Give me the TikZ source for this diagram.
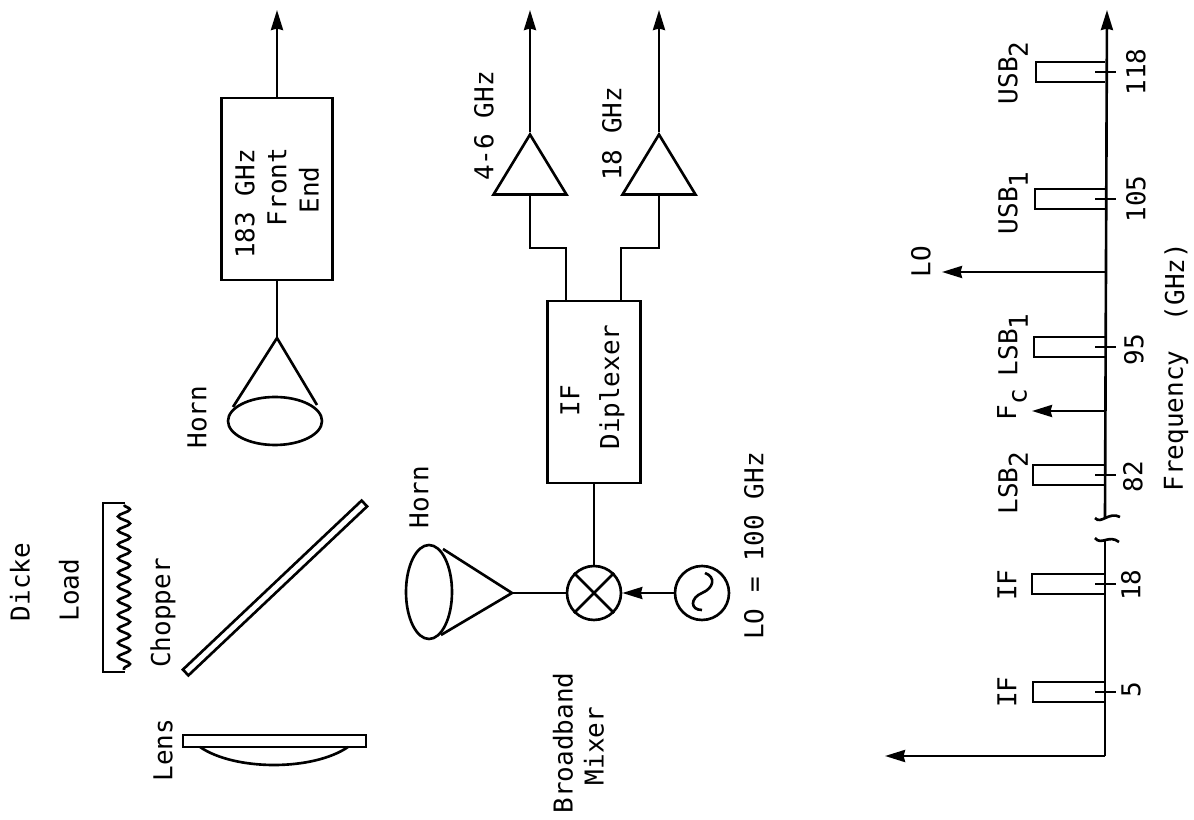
\documentclass[tikz,border=0pt]{standalone}
\usepackage{fontspec}
\setmainfont{DejaVu Sans Mono}
\usetikzlibrary{arrows.meta,positioning,shapes.geometric,decorations.pathmorphing}
\newcommand{\sbs}[1]{\raisebox{-0.4em}{#1}}
\begin{document}
\begin{tikzpicture}[x=0.02cm,y=-0.02cm,node distance=0.6cm and 0.6cm,line width=1.5pt,
  t/.style={rotate=90,font=\fontsize{14.8}{18}\selectfont,inner sep=0pt,align=center},
  b/.style={draw,rectangle,inner sep=0pt},
  c/.style={draw,circle,minimum size=54*0.02cm,inner sep=0pt},
  amp/.style={draw,isosceles triangle,isosceles triangle apex angle=62.6,shape border rotate=90,minimum height=60*0.02cm,inner sep=0pt,anchor=apex},
  a/.style={-{Stealth[length=4mm,width=2.4mm,inset=0.8pt]}}]
  \useasboundingbox (0,0) rectangle (1194,820);
  % top chain
  \node[b,minimum width=111*0.02cm,minimum height=182*0.02cm] (fe) at (277,189) {};
  \node[t] at (245,204) {183 GHz};
  \node[t] at (277,187) {Front};
  \node[t] at (309,190) {End};
  \coordinate (feout) at (277,10);
  \coordinate (h1a) at (277,338);
  \coordinate (h1l) at (233,407);
  \coordinate (h1r) at (317,405);
  \draw[a] (fe.north) -- (feout);
  \draw (fe.south) -- (h1a);
  \draw (h1l) -- (h1a) -- (h1r);
  \draw (275,421) ellipse (47 and 24);
  \node[t] (h1t) at (197,417) {Horn};
  % middle chain
  \node[b,minimum width=93*0.02cm,minimum height=182*0.02cm] (dip) at (594,392) {};
  \node[t] at (570,401) {IF};
  \node[t] at (612,387) {Diplexer};
  \node[c] (mix) at (594,593) {};
  \node[c] (osc) at (702,593) {};
  \draw (mix.north west) -- (mix.south east) (mix.north east) -- (mix.south west);
  \draw (705,573) .. controls (716,577) and (714,588) .. (702,593) .. controls (690,598) and (690,610) .. (702,610);
  \coordinate (h2a) at (512,593);
  \coordinate (h2t) at (443,549);
  \coordinate (h2b) at (441,635);
  \draw (h2t) -- (h2a) -- (h2b);
  \draw (429,592) ellipse (23 and 47);
  \draw (dip.south) -- (mix.north);
  \draw (h2a) -- (mix.west);
  \draw[a] (osc.west) -- (mix.east);
  \node[t] at (419,497) {Horn};
  \node[t] at (563,743) {Broadband};
  \node[t] at (594,746) {Mixer};
  \node[t] at (754,546) {LO = 100 GHz};
  \node[amp] (a1) at (530,132) {};
  \node[amp] (a2) at (659,132) {};
  \coordinate (o1) at (530,10);
  \coordinate (o2) at (659,10);
  \coordinate (d1) at (566,301);
  \coordinate (d2) at (621,301);
  \draw[a] (a1.apex) -- (o1);
  \draw[a] (a2.apex) -- (o2);
  \draw (a1.south) |- (d1 |- 0,248) -- (d1);
  \draw (a2.south) |- (d2 |- 0,248) -- (d2);
  \node[t] at (484,126) {4-6 GHz};
  \node[t] at (612,134) {18 GHz};
  % optics
  \node[t] at (20,582) {Dicke};
  \node[t] at (69,590) {Load};
  \node[t] at (163,613) {Chopper};
  \node[t] at (163,750) {Lens};
  \draw (125,503) -- (103,503) -- (103,672) -- (125,672);
  \draw[decorate,decoration={snake,segment length=8pt,amplitude=3.4pt}] (124,505) -- (124,670);
  \node[draw,rectangle,rotate=43.4,minimum width=246*0.02cm,minimum height=8*0.02cm,inner sep=0pt,line width=1.5pt] (chop) at (275,588) {};
  \node[draw,rectangle,minimum width=183*0.02cm,minimum height=12*0.02cm,inner sep=0pt] (plate) at (274.5,741) {};
  \draw (200,747) .. controls (235,771) and (313,771) .. (348,747);
  % spectrum
  \coordinate (org) at (1105,756);
  \coordinate (vtop) at (885,756);
  \coordinate (br1) at (1105,541);
  \coordinate (br2) at (1105,518);
  \coordinate (end) at (1107,10);
  \draw[a] (org) -- (vtop);
  \draw (org) -- (br1);
  \draw[a] (br2) -- (end);
  \draw (1095,518) .. controls (1101,525) and (1109,511) .. (1120,517);
  \draw (1095,538) .. controls (1101,546) and (1109,534) .. (1119,542);
  \foreach \y/\w/\n/\v/\u in {692/1033/5/690/1131,584/1032/18/585/1131,475/1033/82/477/1133,347/1034/95/350/1134,199/1035/105/199/1136,72/1036/118/72/1136}{
    \draw (1105,\y-10) -| (\w,\y+10) -- (1105,\y+10);
    \draw (1095,\y) -- (1116,\y);
    \node[t] at (\u,\v) {\n};
  }
  \foreach \y/\l in {692/IF,585/IF}
    \node[t] at (1007,\y) {\l};
  \node[t] at (1013,483) {LSB\sbs{2}};
  \node[t] at (1013,345) {LSB\sbs{1}};
  \node[t] at (1013,203) {USB\sbs{1}};
  \node[t] at (1013,73) {USB\sbs{2}};
  \node[t] at (1012,405) {F\sbs{c}};
  \node[t] at (921,262) {LO};
  \coordinate (lo) at (942,272);
  \coordinate (fc) at (1032,411);
  \draw[a] (1106,272) -- (lo);
  \draw[a] (1106,411) -- (fc);
  \node[t] at (1176,421) {Frequency};
  \node[t] at (1176,282) {(GHz)};
\end{tikzpicture}
\end{document}
